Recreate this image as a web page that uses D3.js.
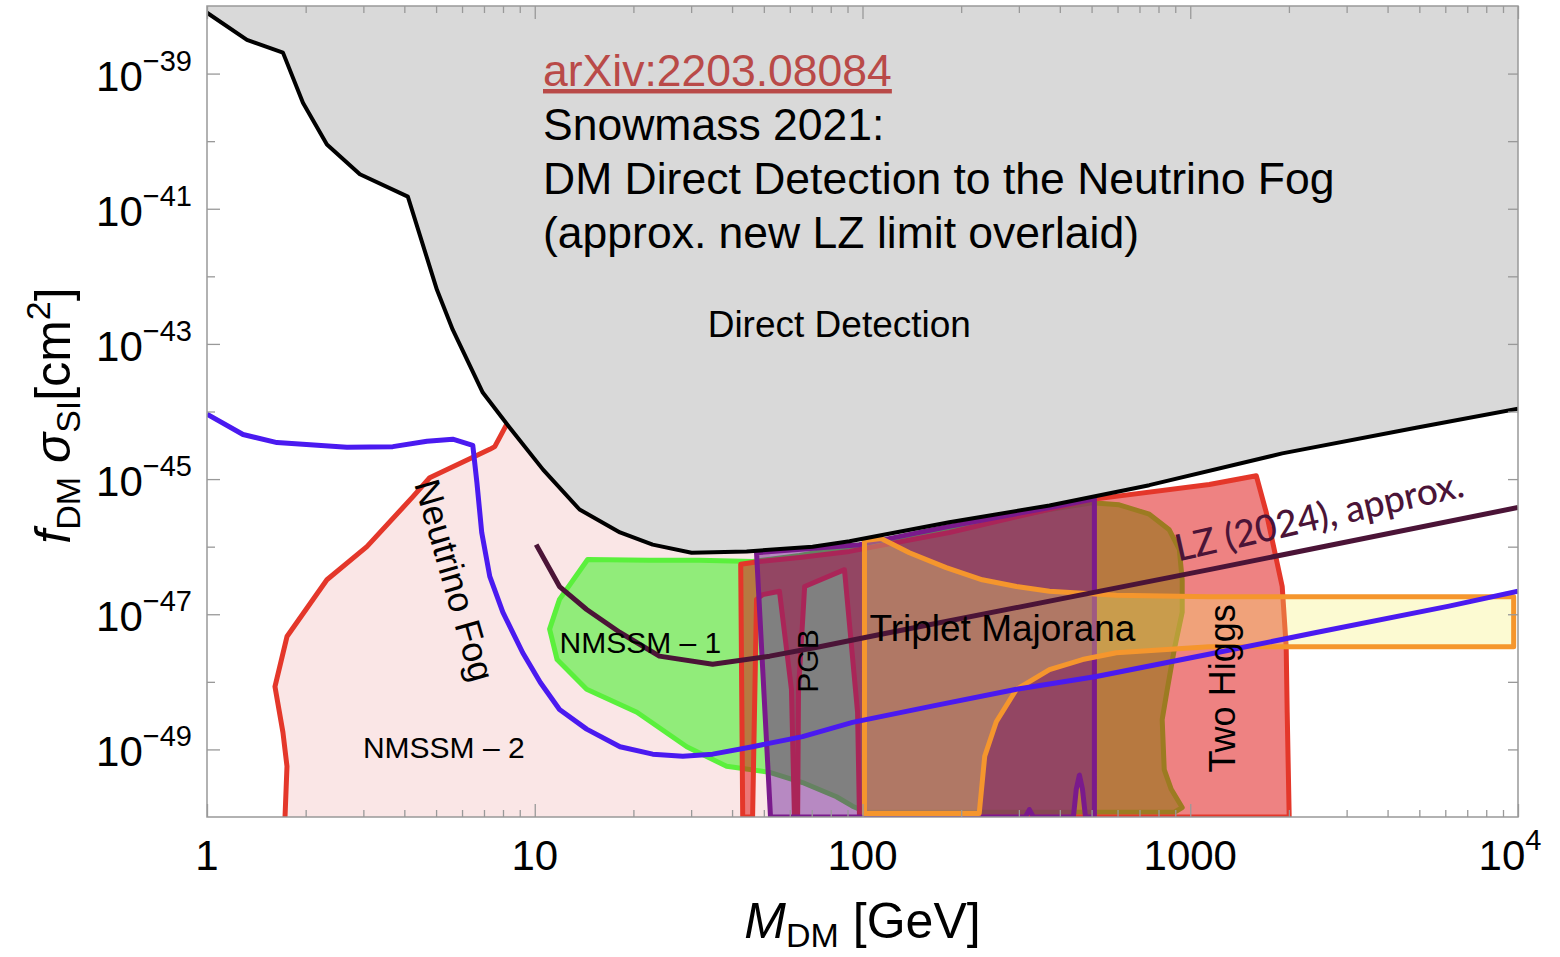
<!DOCTYPE html>
<html><head><meta charset="utf-8">
<script src="https://cdn.jsdelivr.net/npm/d3@7"></script>
<style>
html,body{margin:0;padding:0;background:#fff;}
svg{display:block;}
text{font-family:"Liberation Sans", Arial, sans-serif;}
</style></head><body>
<svg id="chart" width="1560" height="957"></svg>
<script>
// ---------------- DATA (mass in GeV, cross-section as log10(sigma / cm^2)) ----------------
const xTickValues = [1, 10, 100, 1000, 10000];
const xTickLabels = [["1",""],["10",""],["100",""],["1000",""],["10","4"]];
const yTickExponents = [-39, -41, -43, -45, -47, -49];

// Direct-detection excluded region boundary (black curve)
const ddLimit = [[1,-38.10],[1.324,-38.50],[1.705,-38.69],[1.962,-39.43],[2.322,-40.05],[2.927,-40.49],
  [4.10,-40.82],[5.03,-42.20],[5.62,-42.79],[6.94,-43.72],[8.39,-44.24],[10.6,-44.86],[13.7,-45.45],
  [18.2,-45.79],[22.9,-45.97],[30.1,-46.09],[44.3,-46.07],[70.4,-46.00],[91.3,-45.92],[184,-45.64],
  [372,-45.39],[750,-45.09],[1908,-44.62],[4887,-44.24],[10000,-43.96]];

// Neutrino fog boundary (blue)
const neutrinoFog = [[1,-44.04],[1.288,-44.34],[1.635,-44.46],[2.672,-44.53],[3.69,-44.52],[4.69,-44.44],
  [5.62,-44.41],[6.47,-44.50],[6.66,-45.05],[6.89,-45.79],[7.29,-46.44],[7.99,-46.97],[9.19,-47.57],
  [10.4,-48.01],[11.9,-48.41],[14.4,-48.70],[18.2,-48.96],[22.9,-49.07],[28.3,-49.10],[34.9,-49.07],
  [46.2,-48.96],[65.6,-48.81],[93.2,-48.60],[163,-48.36],[295,-48.11],[517,-47.92],[1200,-47.57],
  [2422,-47.27],[6160,-46.88],[10000,-46.66]];

// LZ (2024) approximate limit
const lzLimit = [[10.1,-45.97],[11.9,-46.59],[14.4,-46.93],[18.2,-47.27],[24.0,-47.62],[34.9,-47.74],
  [52.1,-47.62],[74.0,-47.48],[113,-47.30],[1143,-46.34],[10000,-45.42]];

// NMSSM-2 region (first 12 points form its visible red edge)
const nmssm2 = [[1.73,-50],[1.754,-49.25],[1.705,-48.75],[1.612,-48.07],[1.754,-47.33],[2.322,-46.49],
  [3.075,-46.00],[4.25,-45.26],[4.78,-44.98],[7.29,-44.56],[7.55,-44.52],[8.21,-44.19],
  [10.6,-44.86],[13.7,-45.45],[18.2,-45.79],[22.9,-45.97],[30.1,-46.09],[44.3,-46.07],[52.1,-46.07],[52.1,-50]];

// NMSSM-1 region
const nmssm1 = [[14.5,-46.19],[22.4,-46.20],[31.8,-46.20],[46.2,-46.22],[64.3,-46.13],[91.3,-46.00],
  [184,-45.72],[372,-45.45],[502,-45.35],[607,-45.38],[750,-45.52],[863,-45.75],[926,-46.04],[945,-46.49],
  [945,-46.97],[894,-47.52],[851,-48.11],[821,-48.56],[833,-49.30],[875,-49.59],[945,-49.86],[894,-49.93],
  [262,-49.93],[103,-49.93],[93.2,-49.84],[83.3,-49.70],[65.6,-49.49],[52.1,-49.34],[38.5,-49.25],
  [29.1,-48.96],[20.5,-48.45],[14.4,-48.11],[11.7,-47.67],[11.1,-47.22],[11.9,-46.78]];

// Two Higgs region (with Higgs funnel notch)
const twoHiggs = [[43.1,-50],[42.5,-46.26],[48.5,-46.22],[64.3,-46.16],[91.3,-46.07],[184,-45.79],
  [502,-45.30],[1143,-45.08],[1590,-44.95],[1705,-45.49],[1908,-46.59],[1962,-47.48],[1976,-48.45],
  [2004,-50],[97.9,-50],[96.6,-48.45],[88.1,-46.34],[66.6,-46.59],[63.8,-48.11],[63.4,-50],[62.0,-50],
  [60.7,-48.11],[55.8,-46.66],[49.6,-46.71],[47.5,-46.78],[46.2,-50]];

// PGB region
const pgb = [[47.5,-46.09],[97.9,-45.97],[184,-45.70],[372,-45.42],[510,-45.29],[510,-50],[479,-50],
  [469,-49.59],[459,-49.38],[449,-49.59],[440,-50],[332,-50],[323,-49.89],[314,-50],[52.4,-50]];

// Triplet Majorana region
const triplet = [[101.4,-45.91],[114,-45.88],[139,-46.09],[180,-46.31],[232,-46.49],[295,-46.59],
  [372,-46.66],[469,-46.69],[595,-46.72],[1143,-46.74],[9700,-46.74],[9700,-47.48],[1143,-47.48],
  [595,-47.57],[469,-47.67],[372,-47.82],[295,-48.11],[256,-48.59],[236,-49.10],[227,-49.95],[101.4,-49.95]];

const titleLines = ["arXiv:2203.08084","Snowmass 2021:","DM Direct Detection to the Neutrino Fog","(approx. new LZ limit overlaid)"];

// ---------------- LAYOUT ----------------
const W = 1560, H = 957;
const M = {left:207, right:1518, top:6, bottom:817};
const x = d3.scaleLog().domain([1, 1e4]).range([M.left, M.right]);
const y = d3.scaleLog().domain([1e-50, 1e-38]).range([M.bottom, M.top]);
const sig = e => Math.pow(10, e);
const line = d3.line().x(d => x(d[0])).y(d => y(sig(d[1])));

const svg = d3.select("#chart");
svg.append("rect").attr("width", W).attr("height", H).attr("fill", "#fff");
svg.append("defs").append("clipPath").attr("id", "plotClip").append("rect")
  .attr("x", M.left).attr("y", M.top).attr("width", M.right - M.left).attr("height", M.bottom - M.top);
const plot = svg.append("g").attr("clip-path", "url(#plotClip)");

function region(data, fill, op, stroke, edge) {
  plot.append("path").attr("d", line(data) + "Z").attr("fill", fill).attr("fill-opacity", op);
  plot.append("path").attr("d", edge ? line(edge) : line(data) + "Z")
    .attr("fill", "none").attr("stroke", stroke).attr("stroke-width", 5)
    .attr("stroke-linejoin", "round");
}
region(nmssm2, "#fae6e6", 1, "#e4372a", nmssm2.slice(0, 12));
region(nmssm1, "#91ec7a", 1, "#5af03c");
region(twoHiggs, "rgb(221,5,5)", 0.5, "#e4372a");
region(pgb, "rgb(111,20,134)", 0.5, "#7a1a8c");
region(triplet, "rgb(245,238,105)", 0.3, "#f5962d");

// direct detection shaded region
plot.append("path").attr("d", line(ddLimit.concat([[1e4, -38], [1, -38]])) + "Z").attr("fill", "#d9d9d9");
plot.append("path").attr("d", line(ddLimit)).attr("fill", "none").attr("stroke", "#000").attr("stroke-width", 4).attr("stroke-linejoin","round");
plot.append("path").attr("d", line(neutrinoFog)).attr("fill", "none").attr("stroke", "#4a1af0").attr("stroke-width", 5).attr("stroke-linejoin","round");
plot.append("path").attr("d", line(lzLimit)).attr("fill", "none").attr("stroke", "#4b1437").attr("stroke-width", 5).attr("stroke-linejoin","round");

// in-plot labels (anchored in data coordinates)
function label(txt, m, e, size, rot, opts = {}) {
  const t = svg.append("text")
    .attr("transform", `translate(${x(m)},${y(sig(e))}) rotate(${rot})`)
    .attr("font-size", size).attr("fill", opts.fill || "#000").text(txt);
  if (opts.family) t.style("font-family", opts.family);
  if (opts.weight) t.attr("font-weight", opts.weight);
  return t;
}
label("Direct Detection", 33.7, -42.905, 37, 0);
label("NMSSM – 1", 11.9, -47.58, 30, 0);
label("NMSSM – 2", 2.99, -49.13, 30, 0);
label("Triplet Majorana", 105, -47.40, 37, 0);
label("PGB", 73.4, -48.16, 30, -90);
label("Two Higgs", 1371, -49.34, 36, -90);
label("Neutrino Fog", 4.28, -45.07, 36, 74);
label("LZ (2024), approx.", 919, -46.22, 37, -12.8, {fill: "#4b1437", family: "Lato", weight: 500});

// title block
titleLines.forEach((s, i) => {
  const t = svg.append("text").attr("x", 543).attr("y", 86 + i * 54).attr("font-size", 44.5)
    .attr("fill", i === 0 ? "#b94a48" : "#000").text(s);
  if (i === 0) t.attr("text-decoration", "underline");
});

// frame
svg.append("rect").attr("x", M.left).attr("y", M.top).attr("width", M.right - M.left)
  .attr("height", M.bottom - M.top).attr("fill", "none").attr("stroke", "#999").attr("stroke-width", 1.5);

// ticks via d3 axes (inward)
const xMinor = [];
for (let d = 0; d < 4; d++) for (let k = 2; k <= 9; k++) xMinor.push(k * Math.pow(10, d));
const yAll = d3.range(-49, -38).map(sig);
const yMajor = yTickExponents.map(sig);
const yOdd = yAll.filter(v => !yMajor.includes(v));
function styleAxis(g) { g.select(".domain").remove(); g.selectAll("line").attr("stroke", "#999").attr("stroke-width", 1.3); }
svg.append("g").attr("transform", `translate(0,${M.bottom})`).call(d3.axisBottom(x).tickValues(xTickValues).tickSize(-13).tickFormat("")).call(styleAxis);
svg.append("g").attr("transform", `translate(0,${M.bottom})`).call(d3.axisBottom(x).tickValues(xMinor).tickSize(-7).tickFormat("")).call(styleAxis);
svg.append("g").attr("transform", `translate(0,${M.top})`).call(d3.axisTop(x).tickValues(xTickValues).tickSize(-13).tickFormat("")).call(styleAxis);
svg.append("g").attr("transform", `translate(0,${M.top})`).call(d3.axisTop(x).tickValues(xMinor).tickSize(-7).tickFormat("")).call(styleAxis);
svg.append("g").attr("transform", `translate(${M.left},0)`).call(d3.axisLeft(y).tickValues(yMajor).tickSize(-13).tickFormat("")).call(styleAxis);
svg.append("g").attr("transform", `translate(${M.left},0)`).call(d3.axisLeft(y).tickValues(yOdd).tickSize(-8).tickFormat("")).call(styleAxis);
svg.append("g").attr("transform", `translate(${M.right},0)`).call(d3.axisRight(y).tickValues(yAll).tickSize(-10).tickFormat("")).call(styleAxis);

// tick labels
xTickValues.forEach((v, i) => {
  const [base, sup] = xTickLabels[i];
  const t = svg.append("text").attr("x", x(v) - (sup ? 8 : 0)).attr("y", 870)
    .attr("text-anchor", "middle").attr("font-size", 42).text(base);
  if (sup) t.append("tspan").attr("dy", -20).attr("font-size", 29).text(sup);
});
yTickExponents.forEach(e => {
  const t = svg.append("text").attr("x", 192).attr("y", y(sig(e)) + 17)
    .attr("text-anchor", "end").attr("font-size", 42).text("10");
  t.append("tspan").attr("dy", -20).attr("font-size", 29).text("\u2212" + Math.abs(e));
});

// axis titles
const xt = svg.append("text").attr("x", (M.left + M.right) / 2).attr("y", 938).attr("text-anchor", "middle").attr("font-size", 50);
xt.append("tspan").attr("font-style", "italic").text("M");
xt.append("tspan").attr("font-size", 34).attr("dy", 9).text("DM");
xt.append("tspan").attr("dy", -9).text(" [GeV]");

const yt = svg.append("text").attr("transform", `translate(70,${(M.top + M.bottom) / 2 + 4}) rotate(-90)`)
  .attr("text-anchor", "middle").attr("font-size", 50);
yt.append("tspan").attr("font-style", "italic").text("f");
yt.append("tspan").attr("font-size", 34).attr("dy", 10).text("DM");
yt.append("tspan").attr("dy", -10).text(" ");
yt.append("tspan").attr("font-style", "italic").text("σ");
yt.append("tspan").attr("font-size", 34).attr("dy", 10).text("SI");
yt.append("tspan").attr("dy", -10).text("[cm");
yt.append("tspan").attr("font-size", 34).attr("dy", -20).text("2");
yt.append("tspan").attr("dy", 20).text("]");
</script></body></html>
